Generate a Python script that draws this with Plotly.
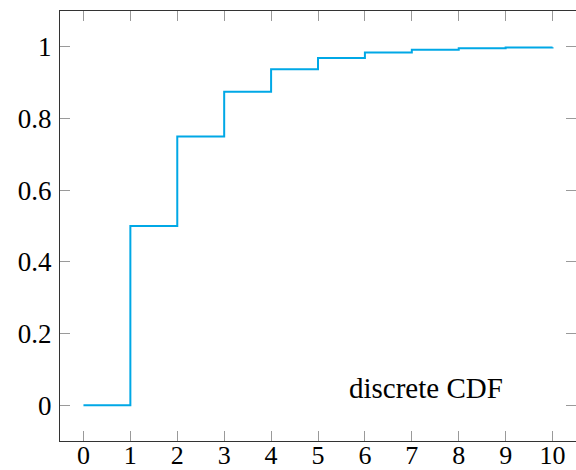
import plotly.graph_objects as go

x_vals = [0, 1, 2, 3, 4, 5, 6, 7, 8, 9, 10]
cdf_vals = [0, 0.5, 0.75, 0.875, 0.9375, 0.96875, 0.984375, 0.9921875,
            0.99609375, 0.998046875, 0.9990234375]
x_ticks = [0, 1, 2, 3, 4, 5, 6, 7, 8, 9, 10]
y_ticks = [0, 0.2, 0.4, 0.6, 0.8, 1]
y_tick_text = ["0", "0.2", "0.4", "0.6", "0.8", "1"]
label_text = "discrete CDF"

font = "Liberation Serif"

fig = go.Figure()
fig.add_trace(go.Scatter(
    x=x_vals, y=cdf_vals, mode="lines",
    line=dict(shape="hv", color="rgb(0,168,230)", width=2),
    showlegend=False,
))

axis_common = dict(
    showgrid=False, zeroline=False, automargin=False,
    showline=True, linecolor="#333333", linewidth=1.3, mirror="allticks",
    ticks="inside", ticklen=10, tickwidth=1, tickcolor="#9a9a9a",
    tickfont=dict(family=font, size=27, color="black"),
)
fig.update_xaxes(range=[-0.5, 10.5], tickvals=x_ticks, ticklabelstandoff=-9,
                 **{**axis_common, "tickfont": dict(family=font, size=26, color="black")})
fig.update_yaxes(range=[-0.1, 1.1], tickvals=y_ticks, ticktext=y_tick_text,
                 ticklabelstandoff=2, **axis_common)

fig.add_annotation(x=7.31, y=0.047, text=label_text, showarrow=False,
                   font=dict(family=font, size=29, color="black"))

fig.update_layout(
    width=576, height=470,
    margin=dict(l=60, r=0, t=11, b=29),
    plot_bgcolor="white", paper_bgcolor="white",
)
fig.write_html("out.html")
